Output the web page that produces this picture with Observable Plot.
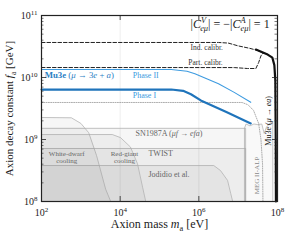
<!DOCTYPE html>
<html><head><meta charset="utf-8">
<script src="https://cdn.jsdelivr.net/npm/d3@7"></script>
<script src="https://cdn.jsdelivr.net/npm/@observablehq/plot@0.6"></script>
<style>body{margin:0;background:#fff}</style>
</head><body><div id="chart"></div>
<script>
// ---- data (log10 of axion mass in eV, log10 of f_a in GeV) ----
const indCalibM  = [2, 6.5, 6.75, 7.0, 7.3, 7.5, 7.65];
const indCalibFa = [10.565, 10.565, 10.555, 10.51, 10.47, 10.435, 10.39];
const partCalibM  = [2, 6.9, 7.24, 7.45, 7.52, 7.58, 7.63];
const partCalibFa = [10.161, 10.16, 10.145, 10.145, 10.24, 10.35, 10.39];
const muEaM  = [7.45, 7.6, 7.75, 7.87, 7.92, 7.945, 7.955, 7.96];
const muEaFa = [10.45, 10.41, 10.37, 10.32, 10.2, 9.95, 9.0, 8.0];
const phase2M  = [2, 5.3, 5.7, 5.9, 6.2, 6.5, 6.9, 7.32];
const phase2Fa = [10.13, 10.13, 10.10, 10.06, 9.98, 9.90, 9.76, 9.60];
const phase1M  = [2, 5.3, 5.6, 5.8, 6.05, 6.7, 7.32];
const phase1Fa = [9.806, 9.806, 9.785, 9.73, 9.63, 9.445, 9.26];
const dottedM  = [2, 7.1, 7.25, 7.39, 7.52, 7.58, 7.62, 7.63];
const dottedFa = [9.597, 9.597, 9.56, 9.47, 9.26, 9.0, 8.6, 8.0];
const snM  = [2, 7.19, 7.19];
const snFa = [9.18, 9.18, 8.0];
const twistM  = [2, 7.19, 7.19];
const twistFa = [8.855, 8.855, 8.0];
const jodM  = [2, 6.38, 6.55, 6.73, 6.81, 6.86];
const jodFa = [8.58, 8.58, 8.5, 8.34, 8.13, 8.0];
const wdM  = [2, 2.76, 3.0, 3.2, 3.4, 3.63, 3.76];
const wdFa = [9.355, 9.35, 9.26, 9.11, 8.74, 8.2, 8.0];
const rgM  = [2, 3.8, 4.01, 4.26, 4.44, 4.57, 4.65];
const rgFa = [9.08, 9.08, 9.03, 8.88, 8.61, 8.23, 8.0];
const megM  = [7.16, 7.16, 7.2, 7.3, 7.4, 7.5, 7.6, 7.66, 7.72, 7.82, 7.88, 7.88];
const megFa = [8.0, 9.18, 9.25, 9.22, 9.25, 9.24, 9.25, 9.1, 9.2, 9.27, 9.27, 8.0];

const xTickExp = [2, 4, 6, 8];
const yTickExp = [8, 9, 10, 11];

// annotation texts with data-space anchors
const endLabels = [
  {t: "|CVeμ| = −|CAeμ| = 1", m: 7.8, fa: 10.86, c: "#222", s: 12}
];
const midLabels = [
  {t: "Ind. calibr.", m: 6.2, fa: 10.485, c: "#333", s: 7.5},
  {t: "Part. calibr.", m: 6.17, fa: 10.245, c: "#333", s: 7.5},
  {t: "White-dwarf\ncooling", m: 2.64, fa: 8.72, c: "#666", s: 7},
  {t: "Red-giant\ncooling", m: 4.11, fa: 8.72, c: "#666", s: 7}
];
const startLabels = [
  {t: "Mu3e (μ → 3e + a)", m: 2.08, fa: 10.03, c: "#2a80c4", s: 8.8},
  {t: "Phase II", m: 4.32, fa: 10.035, c: "#3d9be0", s: 8},
  {t: "Phase I", m: 4.32, fa: 9.71, c: "#3d9be0", s: 8},
  {t: "SN1987A (μf → efa)", m: 4.39, fa: 9.1, c: "#666", s: 8},
  {t: "TWIST", m: 4.72, fa: 8.774, c: "#666", s: 8},
  {t: "Jodidio et al.", m: 4.72, fa: 8.44, c: "#666", s: 8}
];
const vLabels = [
  {t: "Mu3e (μ → ea)", m: 7.78, fa: 9.3, c: "#111", s: 8},
  {t: "MEG II-ALP", m: 7.47, fa: 8.42, c: "#888", s: 7}
];

// ---- build ----
const W = 296, H = 245, mL = 41, mR = 19, mT = 15, mB = 44;
const fw = W - mL - mR, fh = H - mT - mB;
const pts = (ms, fas) => ms.map((m, i) => ({m: 10 ** m, fa: 10 ** fas[i]}));
const yMinor = [];
for (let n = 8; n < 11; n++) for (let k = 2; k <= 9; k++) yMinor.push(k * 10 ** n);
const yMajor = yTickExp.map(e => 10 ** e);
const xMajor = xTickExp.map(e => 10 ** e);

function region(ms, fas, op) {
  const p = pts(ms, fas);
  return [
    Plot.areaY(p, {x: "m", y1: 1e8, y2: "fa", fill: "#000", fillOpacity: op}),
    Plot.line(p, {x: "m", y: "fa", stroke: "#aaa", strokeWidth: 0.7})
  ];
}
const serif = "'Liberation Serif', 'DejaVu Serif', serif";
const lx = d => 10 ** d.m, ly = d => 10 ** d.fa;

const plot = Plot.plot({
  width: W, height: H, marginLeft: mL, marginRight: mR, marginTop: mT, marginBottom: mB,
  style: {fontFamily: serif, fontSize: "10px", background: "#fff", color: "#222"},
  x: {type: "log", domain: [1e2, 1e8]},
  y: {type: "log", domain: [1e8, 1e11]},
  marks: [
    Plot.ruleX(xMajor.slice(1, 3), {stroke: "#e6e6e6", strokeWidth: 0.7}),
    ...region(snM, snFa, 0.035),
    ...region(twistM, twistFa, 0.035),
    ...region(jodM, jodFa, 0.035),
    ...region(wdM, wdFa, 0.035),
    ...region(rgM, rgFa, 0.035),
    ...region(megM, megFa, 0.025),
    Plot.line(pts(dottedM, dottedFa), {x: "m", y: "fa", stroke: "#999", strokeWidth: 0.8, strokeDasharray: "1,1.3"}),
    Plot.line(pts(phase2M, phase2Fa), {x: "m", y: "fa", stroke: "#3d9be0", strokeWidth: 1.1}),
    Plot.line(pts(phase1M, phase1Fa), {x: "m", y: "fa", stroke: "#1f74bb", strokeWidth: 2.2}),
    Plot.line(pts(indCalibM, indCalibFa), {x: "m", y: "fa", stroke: "#222", strokeWidth: 1, strokeDasharray: "3.5,2"}),
    Plot.line(pts(partCalibM, partCalibFa), {x: "m", y: "fa", stroke: "#222", strokeWidth: 1, strokeDasharray: "3.5,2"}),
    Plot.line(pts(muEaM, muEaFa), {x: "m", y: "fa", stroke: "#111", strokeWidth: 2.2}),
    Plot.text(endLabels, {x: lx, y: ly, text: "t", fill: "c", fontSize: "s", textAnchor: "end"}),
    Plot.text(midLabels, {x: lx, y: ly, text: "t", fill: "c", fontSize: "s", textAnchor: "middle", lineHeight: 1.0}),
    Plot.text(startLabels, {x: lx, y: ly, text: "t", fill: "c", fontSize: "s", textAnchor: "start"}),
    Plot.text(vLabels, {x: lx, y: ly, text: "t", fill: "c", fontSize: "s", rotate: -90}),
    Plot.frame({stroke: "#222", strokeWidth: 1.2}),
    Plot.tickY(yMinor, {y: d => d, stroke: "#222", strokeWidth: 0.6, insetRight: fw - 2.5}),
    Plot.tickY(yMinor, {y: d => d, stroke: "#222", strokeWidth: 0.6, insetLeft: fw - 2.5}),
    Plot.tickY(yMajor, {y: d => d, stroke: "#222", strokeWidth: 0.8, insetRight: fw - 5}),
    Plot.tickY(yMajor, {y: d => d, stroke: "#222", strokeWidth: 0.8, insetLeft: fw - 5}),
    Plot.tickX(xMajor, {x: d => d, stroke: "#222", strokeWidth: 0.8, insetTop: fh - 5}),
    Plot.tickX(xMajor, {x: d => d, stroke: "#222", strokeWidth: 0.8, insetBottom: fh - 5}),
    Plot.axisX({ticks: xMajor, tickFormat: d => "10^" + Math.round(Math.log10(d)), tickSize: 0, tickPadding: 7, label: null, fontSize: 10}),
    Plot.axisY({ticks: yMajor, tickFormat: d => "10^" + Math.round(Math.log10(d)), tickSize: 0, tickPadding: 4, label: null, fontSize: 10}),
    Plot.text(["Axion mass ma [eV]"], {frameAnchor: "bottom", dy: 26, fontSize: 12, fill: "#222"}),
    Plot.text(["Axion decay constant fa [GeV]"], {frameAnchor: "left", dx: -32, rotate: -90, textAnchor: "middle", fontSize: 11, fill: "#222"})
  ]
});
document.getElementById("chart").appendChild(plot);

// ---- rich text (italics, sub/superscripts) ----
const rich = new Map([
  ["Axion mass ma [eV]", [["Axion mass "], ["m", {it: 1}], ["a", {sub: 1}], [" [eV]"]]],
  ["Axion decay constant fa [GeV]", [["Axion decay constant "], ["f", {it: 1}], ["a", {sub: 1}], [" [GeV]"]]],
  ["Mu3e (μ → 3e + a)", [["Mu3e", {b: 1}], [" ("], ["μ", {it: 1}], [" → 3"], ["e", {it: 1}], [" + "], ["a", {it: 1}], [")"]]],
  ["SN1987A (μf → efa)", [["SN1987A ("], ["μf", {it: 1}], [" → "], ["efa", {it: 1}], [")"]]],
  ["Mu3e (μ → ea)", [["Mu3e ("], ["μ", {it: 1}], [" → "], ["ea", {it: 1}], [")"]]],
  ["|CVeμ| = −|CAeμ| = 1", [["|"], ["C", {it: 1}], ["V", {sup: 1, it: 1}], ["eμ", {sub: 1, it: 1, dx: -5}], ["| = −|"], ["C", {it: 1}], ["A", {sup: 1, it: 1}], ["eμ", {sub: 1, it: 1, dx: -5}], ["| = 1"]]]
]);
const NS = "http://www.w3.org/2000/svg";
plot.querySelectorAll("text").forEach(el => {
  let txt = el.textContent;
  let segs = rich.get(txt);
  const mt = /^10\^(\d+)$/.exec(txt);
  if (mt) segs = [["10"], [mt[1], {sup: 1}]];
  if (!segs) return;
  const base = parseFloat(getComputedStyle(el).fontSize) || 10;
  while (el.firstChild) el.removeChild(el.firstChild);
  let cur = 0;
  segs.forEach(([t, o = {}]) => {
    const ts = document.createElementNS(NS, "tspan");
    ts.textContent = t;
    const shift = o.sup ? -0.38 * base : o.sub ? 0.25 * base : 0;
    if (shift !== cur) { ts.setAttribute("dy", shift - cur); cur = shift; }
    if (o.sup || o.sub) ts.setAttribute("font-size", 0.7 * base);
    if (o.dx) ts.setAttribute("dx", o.dx);
    if (o.it) ts.setAttribute("font-style", "italic");
    if (o.b) ts.setAttribute("font-weight", "bold");
    el.appendChild(ts);
  });
});
</script>
</body></html>
